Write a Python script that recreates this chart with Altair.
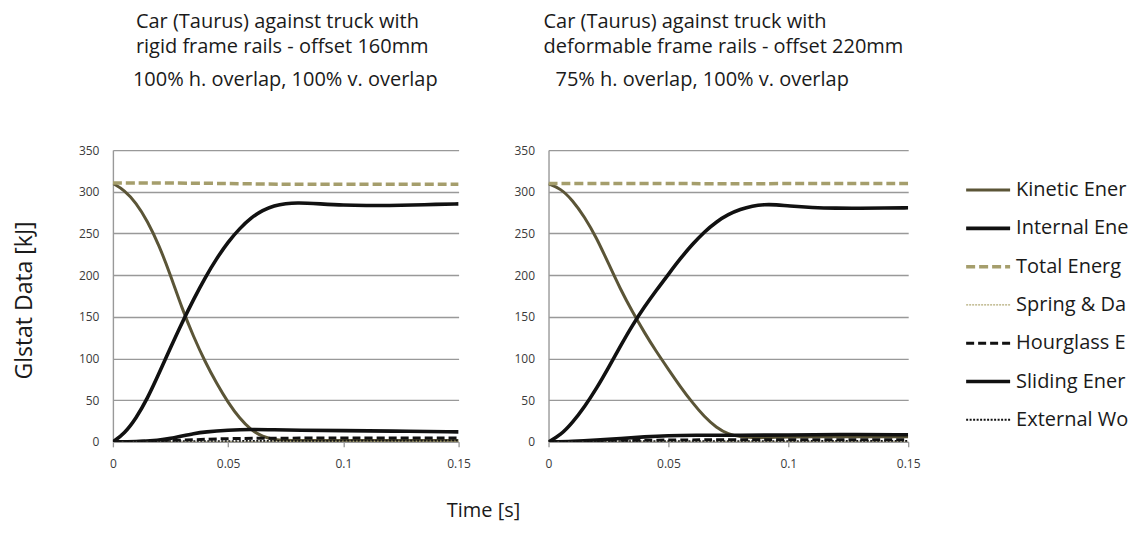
import altair as alt
import pandas as pd

# ---------------- data ----------------
SERIES = ["Kinetic Energy", "Internal Energy", "Total Energy", "Spring & Damper Energy",
          "Hourglass Energy", "Sliding Energy", "External Work"]

X_TICKS = [0, 0.05, 0.1, 0.15]
Y_TICKS = [0, 50, 100, 150, 200, 250, 300, 350]

# Left panel: rigid frame rails, offset 160mm
L_T = [0, 0.005, 0.01, 0.015, 0.02, 0.025, 0.03, 0.035, 0.04, 0.045, 0.05, 0.055, 0.06,
       0.065, 0.07, 0.075, 0.08, 0.09, 0.1, 0.11, 0.12, 0.13, 0.14, 0.15]
L_KINETIC = [310, 302, 287, 265, 236, 200, 160, 126, 96, 70, 47, 28, 14,
             6, 2.5, 1.8, 1.5, 1.5, 1.5, 1.5, 1.5, 1.5, 1.5, 1.5]
L_INTERNAL = [0, 10, 28, 52, 82, 113, 143, 171, 197, 220, 240, 256, 269,
              278, 283.5, 286, 287, 285.5, 284, 283.5, 283.5, 284, 285, 285.5]
L_TOTAL_T = [0, 0.03, 0.05, 0.07, 0.1, 0.15]
L_TOTAL = [310.5, 310.5, 310, 309, 309, 309]
L_SPRING_T = [0, 0.15]
L_SPRING = [0, 0.5]
L_HOUR_T = [0, 0.02, 0.03, 0.04, 0.05, 0.07, 0.1, 0.15]
L_HOUR = [0, 1, 2, 3, 4, 4.5, 4.5, 4.5]
L_SLIDE_T = [0, 0.01, 0.02, 0.025, 0.03, 0.035, 0.04, 0.05, 0.06, 0.07, 0.08, 0.1, 0.12, 0.15]
L_SLIDE = [0, 0, 2, 4, 7, 10, 12, 14, 15, 14.5, 14, 13.5, 13, 12]
L_EXT_T = [0, 0.15]
L_EXT = [0.5, 1.5]

# Right panel: deformable frame rails, offset 220mm
R_T = [0, 0.005, 0.01, 0.015, 0.02, 0.025, 0.03, 0.035, 0.04, 0.045, 0.05, 0.055, 0.06,
       0.065, 0.07, 0.075, 0.08, 0.085, 0.09, 0.095, 0.1, 0.11, 0.12, 0.13, 0.14, 0.15]
R_KINETIC = [309.5, 304, 290, 270, 245, 214, 183, 156, 131, 108, 87, 66, 47,
             30, 17, 9, 6, 5, 5, 5.5, 6, 6, 6, 6, 6, 6]
R_INTERNAL = [0, 8, 23, 42, 64, 89, 115, 140, 162, 182, 201, 220, 237,
              252, 264, 273, 279, 283, 284.8, 284.5, 283, 281, 280.3, 280.3, 280.5, 280.8]
R_TOTAL_T = [0, 0.05, 0.08, 0.1, 0.15]
R_TOTAL = [310, 310, 309.5, 310, 310]
R_SPRING_T = [0, 0.15]
R_SPRING = [0, 0.3]
R_HOUR_T = [0, 0.02, 0.04, 0.06, 0.15]
R_HOUR = [0, 0.5, 2, 2.5, 2.5]
R_SLIDE_T = [0, 0.01, 0.02, 0.03, 0.04, 0.05, 0.06, 0.08, 0.1, 0.12, 0.15]
R_SLIDE = [0, 0.5, 2, 4, 6, 7.5, 8, 8, 8, 9, 8.5]
R_EXT_T = [0, 0.15]
R_EXT = [0.5, 1]

L_TITLE = ["Car (Taurus) against truck with", "rigid frame rails - offset 160mm",
           "100% h. overlap, 100% v. overlap"]
R_TITLE = ["Car (Taurus) against truck with", "deformable frame rails - offset 220mm",
           "75% h. overlap, 100% v. overlap"]

# ---------------- styles ----------------
FONT = "Open Sans"
STYLE = {
    "Kinetic Energy": dict(color="#5b5537", strokeWidth=3),
    "Internal Energy": dict(color="#111111", strokeWidth=3.6),
    "Total Energy": dict(color="#a59e6c", strokeWidth=3.5, strokeDash=[9, 4]),
    "Spring & Damper Energy": dict(color="#b3ab78", strokeWidth=1.2, strokeDash=[2, 1]),
    "Hourglass Energy": dict(color="#111111", strokeWidth=3, strokeDash=[8, 4]),
    "Sliding Energy": dict(color="#111111", strokeWidth=3.6),
    "External Work": dict(color="#111111", strokeWidth=2, strokeDash=[2, 1.5]),
}
GRID = "#999999"
H = 292


def panel(series, width, titles, with_ytitle, title_dx):
    x = alt.X("t:Q", scale=alt.Scale(domain=[0, 0.15], nice=False),
              axis=alt.Axis(values=X_TICKS, labelExpr="datum.value == 0 ? '0' : format(datum.value, '.2~f')",
                            grid=False, title=None, labelFlush=False,
                            domainColor=GRID, domainWidth=1.3, tickColor=GRID, tickSize=5,
                            tickWidth=1.3, labelPadding=12, labelFontSize=12,
                            labelColor="#3a3a3a", labelFont=FONT))
    yaxis = dict(values=Y_TICKS, grid=True, gridColor=GRID, gridWidth=1.4,
                 domain=True, domainColor=GRID, domainWidth=1.4, ticks=False,
                 labelPadding=14, labelFontSize=12, labelColor="#3a3a3a", labelFont=FONT)
    if with_ytitle:
        yaxis.update(title="Glstat Data [kJ]", titleFont=FONT, titleFontSize=23,
                     titleFontWeight="normal", titleColor="#1a1a1a", titleX=-88,
                     titleY=H / 2 + 4, titleAngle=270, titleAlign="center",
                     titleBaseline="middle")
    else:
        yaxis.update(title=None)
    y = alt.Y("v:Q", scale=alt.Scale(domain=[0, 350], nice=False), axis=alt.Axis(**yaxis))

    layers = []
    for name, ts, vs in series:
        df = pd.DataFrame({"t": ts, "v": vs})
        layers.append(
            alt.Chart(df).mark_line(interpolate="basis", clip=True, **STYLE[name])
            .encode(x=x, y=y)
        )
    ys = [-128, -103, -70]
    for i, txt in enumerate(titles):
        layers.append(
            alt.Chart(alt.Data(values=[{}])).mark_text(
                align="left", baseline="middle", font=FONT, fontSize=20, color="#1a1a1a"
            ).encode(x=alt.value(title_dx[i]), y=alt.value(ys[i]), text=alt.value(txt))
        )
    return alt.layer(*layers).properties(width=width, height=H)


left = panel([
    ("Kinetic Energy", L_T, L_KINETIC),
    ("Internal Energy", L_T, L_INTERNAL),
    ("Total Energy", L_TOTAL_T, L_TOTAL),
    ("Spring & Damper Energy", L_SPRING_T, L_SPRING),
    ("Hourglass Energy", L_HOUR_T, L_HOUR),
    ("Sliding Energy", L_SLIDE_T, L_SLIDE),
    ("External Work", L_EXT_T, L_EXT),
], 346, L_TITLE, True, [23, 23, 20])

xtitle = alt.Chart(alt.Data(values=[{}])).mark_text(
    align="center", baseline="middle", font=FONT, fontSize=20, color="#1a1a1a"
).encode(x=alt.value(371), y=alt.value(361), text=alt.value("Time [s]"))
left = alt.layer(left, xtitle)

right = panel([
    ("Kinetic Energy", R_T, R_KINETIC),
    ("Internal Energy", R_T, R_INTERNAL),
    ("Total Energy", R_TOTAL_T, R_TOTAL),
    ("Spring & Damper Energy", R_SPRING_T, R_SPRING),
    ("Hourglass Energy", R_HOUR_T, R_HOUR),
    ("Sliding Energy", R_SLIDE_T, R_SLIDE),
    ("External Work", R_EXT_T, R_EXT),
], 360, R_TITLE, False, [-5, -5, 7])

# ---------------- custom legend ----------------
leg_df = pd.DataFrame({"series": SERIES})
leg_y = alt.Y("series:N", scale=alt.Scale(type="point", domain=SERIES, range=[40, 270], padding=0),
              axis=None)
leg_layers = []
for name in SERIES:
    leg_layers.append(
        alt.Chart(leg_df).transform_filter(alt.datum.series == name)
        .mark_rule(**STYLE[name])
        .encode(x=alt.value(-32), x2=alt.value(12), y=leg_y)
    )
leg_layers.append(
    alt.Chart(leg_df).mark_text(align="left", baseline="middle", font=FONT, fontSize=20,
                                color="#1a1a1a", limit=113, ellipsis="\u200b")
    .encode(x=alt.value(18), y=leg_y, text="series:N")
)
legend = alt.layer(*leg_layers).properties(width=120, height=H)

chart = (
    alt.hconcat(left, right, legend, spacing=90, bounds="flush")
    .resolve_scale(x="independent", y="independent")
    .properties(padding={"left": 6, "top": 4, "right": 0, "bottom": 6}, background="#ffffff")
    .configure_view(stroke=None)
)

chart.save("out.html", embed_options={"renderer": "svg", "actions": False})
